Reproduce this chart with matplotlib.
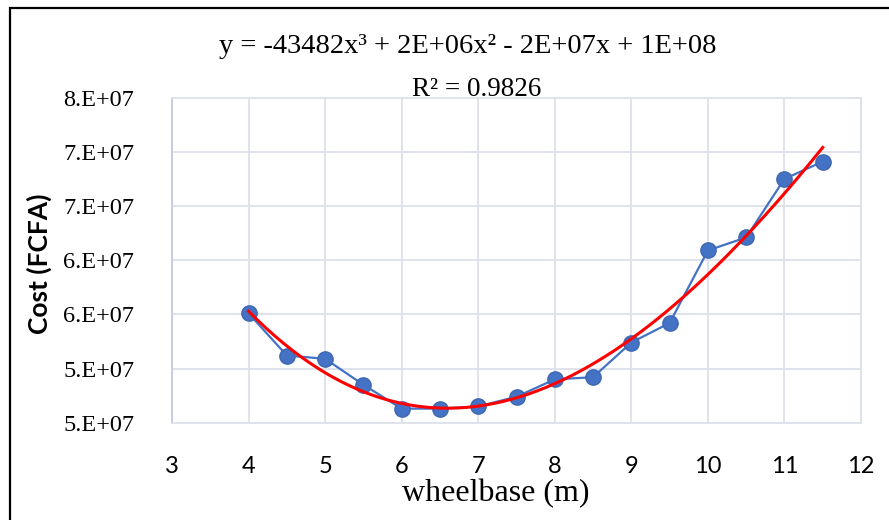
import numpy as np
import matplotlib
matplotlib.use("Agg")
import matplotlib.pyplot as plt
from matplotlib.patches import Rectangle

# 数据
wheelbase = [4, 4.5, 5, 5.5, 6, 6.5, 7, 7.5, 8, 8.5, 9, 9.5, 10, 10.5, 11, 11.5]
cost = [55.1e6, 51.2e6, 50.9e6, 48.5e6, 46.3e6, 46.3e6, 46.5e6, 47.4e6,
        49.0e6, 49.2e6, 52.4e6, 54.2e6, 60.9e6, 62.1e6, 67.5e6, 69.1e6]

x_ticks = [3, 4, 5, 6, 7, 8, 9, 10, 11, 12]
y_ticks = [45e6, 50e6, 55e6, 60e6, 65e6, 70e6, 75e6]
y_tick_labels = ["5.E+07", "5.E+07", "6.E+07", "6.E+07", "7.E+07", "7.E+07", "8.E+07"]

equation = "y = -43482x³ + 2E+06x² - 2E+07x + 1E+08"
r2_text = "R² = 0.9826"

W, H = 889, 520
fig = plt.figure(figsize=(W / 100, H / 100), dpi=100)
ax = fig.add_axes([172 / W, 1 - 422.7 / H, (861 - 172) / W, (422.7 - 97.7) / H])

# 三次趋势线
coef = np.polyfit(wheelbase, cost, 3)
xs = np.linspace(min(wheelbase), max(wheelbase), 200)
ys = np.polyval(coef, xs)

ax.plot(wheelbase, cost, color="#4472C4", lw=1.6, marker="o", ms=11,
        markerfacecolor="#4472C4", markeredgecolor="#3E67B1", zorder=3)
ax.plot(xs, ys, color="#FF0000", lw=2.2, zorder=4)

ax.set_xlim(3, 12)
ax.set_ylim(45e6, 75e6)
ax.set_xticks(x_ticks)
ax.set_yticks(y_ticks)
ax.set_yticklabels(y_tick_labels, family="Liberation Serif", fontsize=17.5)
ax.set_xticklabels([str(t) for t in x_ticks], family="Lato", fontsize=17)
ax.tick_params(axis="both", length=0)
ax.tick_params(axis="y", pad=27)
ax.tick_params(axis="x", pad=24)

ax.grid(True, color="#DDE1EA", lw=1.3)
ax.set_axisbelow(True)
for side in ["top", "right", "bottom"]:
    ax.spines[side].set_color("#DDE1EA")
    ax.spines[side].set_linewidth(1.3)
ax.spines["left"].set_color("#C3CBDC")
ax.spines["left"].set_linewidth(1.3)

# 文字
fig.text(468 / W, 1 - 53 / H, equation, family="Liberation Serif", fontsize=20.5,
         ha="center", va="baseline")
fig.text(477 / W, 1 - 96 / H, r2_text, family="Liberation Serif", fontsize=19.5,
         ha="center", va="baseline")
fig.text(496 / W, 1 - 501.7 / H, "wheelbase (m)", family="Liberation Serif",
         fontsize=23, ha="center", va="baseline")
fig.text(39.5 / W, 1 - 263.5 / H, "Cost (FCFA)", family="Lato", fontweight="bold",
         fontsize=19, rotation=90, ha="center", va="center")

# 外框
fig.patches.append(Rectangle((10 / W, -0.1), 1.2, 1 - 8 / H + 0.1, transform=fig.transFigure,
                             fill=False, edgecolor="black", lw=1.6))

fig.savefig("out.png", dpi=100)
